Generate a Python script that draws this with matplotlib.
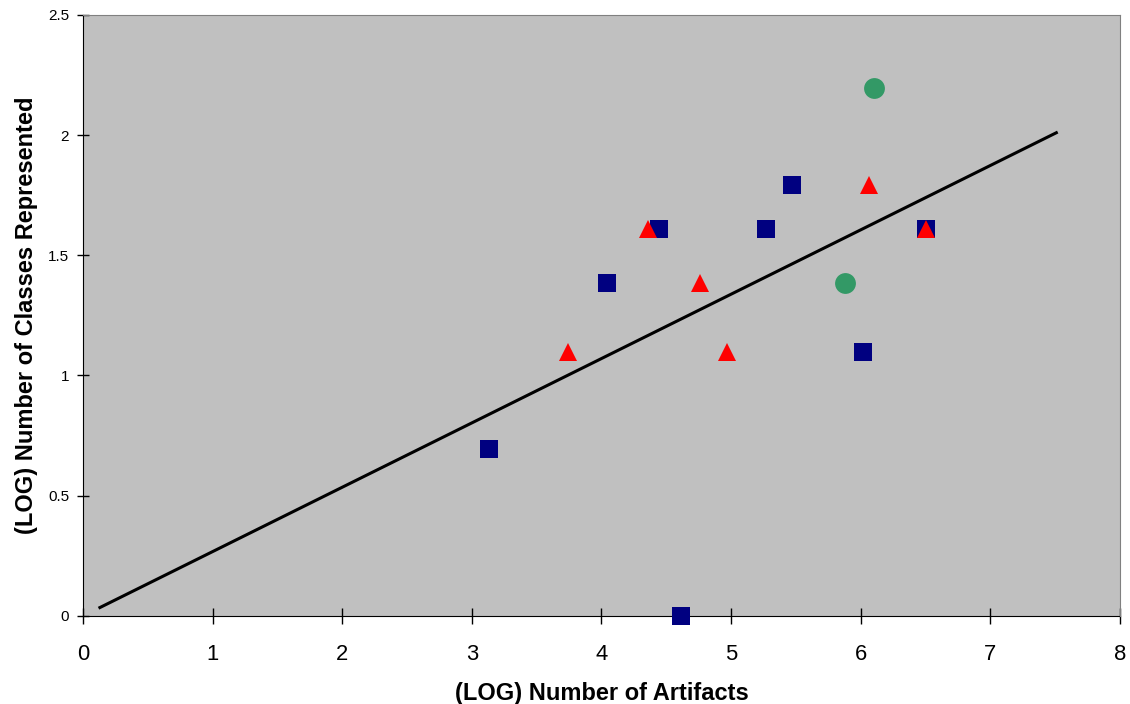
import matplotlib
matplotlib.use('Agg')
import matplotlib.pyplot as plt

plt.rcParams['font.family'] = ['Liberation Sans', 'DejaVu Sans']

# (LOG) values
square_x = [3.135, 4.046, 4.443, 4.612, 5.266, 5.47, 6.02, 6.504]
square_y = [0.693, 1.386, 1.609, 0.0, 1.609, 1.792, 1.099, 1.609]

triangle_x = [3.743, 4.363, 4.762, 4.97, 6.065, 6.504]
triangle_y = [1.099, 1.609, 1.386, 1.099, 1.792, 1.609]

circle_x = [6.10, 5.879]
circle_y = [2.197, 1.386]

trend_x = [0.13, 7.51]
trend_y = [0.034, 2.01]

x_ticks = [0, 1, 2, 3, 4, 5, 6, 7, 8]
y_ticks = [0, 0.5, 1, 1.5, 2, 2.5]
y_tick_labels = ['0', '0.5', '1', '1.5', '2', '2.5']

fig = plt.figure(figsize=(11.3, 7.04), dpi=100)
ax = fig.add_axes([0.0735, 0.1254, 0.9175, 0.8533])
ax.set_facecolor('#C0C0C0')

ax.plot(trend_x, trend_y, color='black', linewidth=2.2, zorder=2)
ax.plot(square_x, square_y, linestyle='none', marker='s', markersize=13,
        color='#000080', markeredgewidth=0, zorder=3, clip_on=False)
ax.plot(triangle_x, triangle_y, linestyle='none', marker='^', markersize=13,
        color='#FF0000', markeredgewidth=0, zorder=4, clip_on=False)
ax.plot(circle_x, circle_y, linestyle='none', marker='o', markersize=15,
        color='#339966', markeredgewidth=0, zorder=3, clip_on=False)

ax.set_xlim(0, 8)
ax.set_ylim(0, 2.5)
ax.set_xticks(x_ticks)
ax.set_yticks(y_ticks)
ax.set_yticklabels(y_tick_labels)

ax.tick_params(axis='x', direction='inout', length=11, width=1, labelsize=15.8, pad=15)
ax.tick_params(axis='y', direction='inout', length=8, width=1, labelsize=11, pad=6)

for side in ['top', 'right']:
    ax.spines[side].set_color('#808080')
for side in ['left', 'bottom']:
    ax.spines[side].set_color('black')
    ax.spines[side].set_zorder(1)

ax.set_xlabel('(LOG) Number of Artifacts', fontsize=17, fontweight='bold', labelpad=12)
ax.set_ylabel('(LOG) Number of Classes Represented', fontsize=17, fontweight='bold', labelpad=7)

fig.savefig('out.png', dpi=100)
